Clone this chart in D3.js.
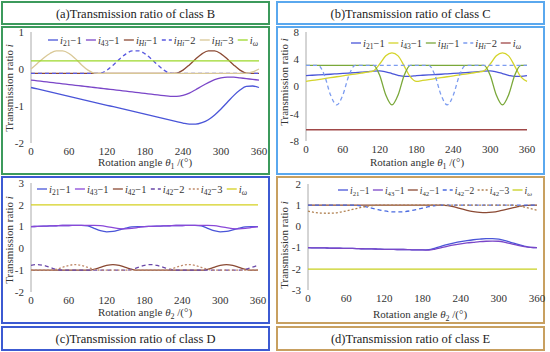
<!DOCTYPE html>
<html>
<head>
<meta charset="utf-8">
<script src="https://cdn.jsdelivr.net/npm/d3@7"></script>
<style>
  body { margin: 0; background: #fff; }
</style>
</head>
<body>
<svg id="fig" width="550" height="352"></svg>
<script>
// rotation angle grid (deg)
const angles = [0,10,20,30,40,50,60,70,80,90,100,110,120,130,140,150,160,170,180,
  190,200,210,220,230,240,250,260,270,280,290,300,310,320,330,340,350,360];
const ends = [0, 360];
const xTicks = [0, 60, 120, 180, 240, 300, 360];

// (a) class B
const aI21 = [-0.5,-0.54,-0.58,-0.62,-0.66,-0.7,-0.74,-0.78,-0.82,-0.86,-0.9,-0.94,-0.98,-1.02,-1.06,-1.1,-1.14,-1.18,-1.22,
  -1.26,-1.3,-1.34,-1.38,-1.42,-1.46,-1.49,-1.49,-1.45,-1.37,-1.24,-1.08,-0.9,-0.72,-0.57,-0.47,-0.46,-0.5];
const aI43 = [-0.3,-0.32,-0.34,-0.36,-0.38,-0.4,-0.42,-0.44,-0.46,-0.48,-0.5,-0.52,-0.54,-0.56,-0.58,-0.6,-0.62,-0.64,-0.66,
  -0.68,-0.7,-0.72,-0.74,-0.74,-0.71,-0.65,-0.56,-0.46,-0.37,-0.29,-0.24,-0.22,-0.22,-0.24,-0.26,-0.28,-0.3];
const aHi1 = [-0.12,-0.12,-0.12,-0.12,-0.12,-0.12,-0.12,-0.12,-0.12,-0.12,-0.12,-0.12,-0.12,-0.12,-0.12,-0.12,-0.12,-0.12,-0.12,
  -0.12,-0.12,-0.12,-0.12,-0.11,-0.03,0.11,0.27,0.41,0.49,0.49,0.41,0.27,0.11,-0.03,-0.11,-0.12,-0.12];
const aHi2 = [-0.12,-0.12,-0.12,-0.12,-0.12,-0.12,-0.12,-0.12,-0.12,-0.12,-0.12,-0.11,-0.03,0.11,0.27,0.41,0.49,0.49,0.41,
  0.27,0.11,-0.03,-0.11,-0.12,-0.12,-0.12,-0.12,-0.12,-0.12,-0.12,-0.12,-0.12,-0.12,-0.12,-0.12,-0.12,-0.12];
const aHi3 = [0.0,0.15,0.3,0.42,0.49,0.49,0.42,0.28,0.11,-0.03,-0.11,-0.12,-0.12,-0.12,-0.12,-0.12,-0.12,-0.12,-0.12,
  -0.12,-0.12,-0.12,-0.12,-0.12,-0.12,-0.12,-0.12,-0.12,-0.12,-0.12,-0.12,-0.12,-0.12,-0.12,-0.12,-0.08,0.0];
const aW = [0.22, 0.22];

// (b) class C
const bI21 = [1.6,1.65,1.7,1.75,1.8,1.86,1.92,1.98,2.04,2.1,2.17,2.27,2.3,2.15,1.9,1.65,1.48,1.48,1.6,
  1.65,1.7,1.75,1.8,1.86,1.92,1.98,2.04,2.1,2.17,2.27,2.3,2.15,1.9,1.65,1.48,1.48,1.6];
const bI43 = [0.75,0.89,1.02,1.16,1.29,1.43,1.56,1.7,1.83,1.97,2.1,2.3,3.3,4.5,4.95,4.5,3.0,1.4,0.75,
  0.89,1.02,1.16,1.29,1.43,1.56,1.7,1.83,1.97,2.1,2.3,3.3,4.5,4.95,4.5,3.0,1.4,0.75];
const bHi1 = [3.1,3.1,3.1,3.1,3.1,3.1,3.1,3.1,3.1,3.1,3.1,3.1,1.65,-1.25,-2.7,-1.25,1.65,3.1,3.1,
  3.1,3.1,3.1,3.1,3.1,3.1,3.1,3.1,3.1,3.1,3.1,1.65,-1.25,-2.7,-1.25,1.65,3.1,3.1];
const bHi2 = [3.1,3.1,3.1,1.65,-1.25,-2.7,-1.25,1.65,3.1,3.1,3.1,3.1,3.1,3.1,3.1,3.1,3.1,3.1,3.1,
  3.1,3.1,1.65,-1.25,-2.7,-1.25,1.65,3.1,3.1,3.1,3.1,3.1,3.1,3.1,3.1,3.1,3.1,3.1];
const bW = [-6.35, -6.35];

// (c) class D
const cI21 = [1.0,1.01,1.02,1.03,1.04,1.05,1.05,1.06,1.06,1.03,0.92,0.81,0.76,0.78,0.85,0.93,0.99,1.0,1.0,
  1.01,1.02,1.03,1.04,1.05,1.05,1.06,1.06,1.03,0.92,0.81,0.76,0.78,0.85,0.93,0.99,1.0,1.0];
const cI43 = [1.0,1.01,1.02,1.03,1.04,1.05,1.05,1.06,1.06,1.06,1.06,1.04,1.0,0.95,0.91,0.9,0.92,0.96,1.0,
  1.01,1.02,1.03,1.04,1.05,1.05,1.06,1.06,1.06,1.06,1.04,1.0,0.95,0.91,0.9,0.92,0.96,1.0];
const cHi1 = [-1,-1,-1,-1,-1,-1,-1,-1,-1,-1,-0.96,-0.87,-0.78,-0.74,-0.78,-0.87,-0.96,-1,-1,
  -1,-1,-1,-1,-1,-1,-1,-1,-1,-0.96,-0.87,-0.78,-0.74,-0.78,-0.87,-0.96,-1,-1];
const cHi2 = [-0.78,-0.74,-0.78,-0.87,-0.96,-1,-1,-1,-1,-1,-1,-1,-1,-1,-1,-1,-0.96,-0.87,-0.78,
  -0.74,-0.78,-0.87,-0.96,-1,-1,-1,-1,-1,-1,-1,-1,-1,-1,-1,-0.96,-0.87,-0.78];
const cHi3 = [-1,-1,-1,-1,-0.96,-0.87,-0.78,-0.74,-0.78,-0.87,-0.96,-1,-1,-1,-1,-1,-1,-1,-1,
  -1,-1,-1,-0.96,-0.87,-0.78,-0.74,-0.78,-0.87,-0.96,-1,-1,-1,-1,-1,-1,-1,-1];
const cW = [2, 2];

// (d) class E
const dI21 = [-1.0,-1.01,-1.01,-1.02,-1.03,-1.03,-1.04,-1.04,-1.05,-1.06,-1.06,-1.07,-1.08,-1.08,-1.09,-1.09,-1.1,-1.11,-1.11,
  -1.1,-1.02,-0.93,-0.85,-0.78,-0.72,-0.67,-0.63,-0.6,-0.58,-0.58,-0.6,-0.67,-0.76,-0.85,-0.93,-0.99,-1.0];
const dI43 = [-1.0,-1.01,-1.01,-1.02,-1.03,-1.03,-1.04,-1.04,-1.05,-1.06,-1.06,-1.07,-1.08,-1.08,-1.09,-1.09,-1.1,-1.11,-1.11,
  -1.12,-1.07,-1.0,-0.93,-0.87,-0.82,-0.78,-0.75,-0.72,-0.7,-0.69,-0.7,-0.75,-0.82,-0.89,-0.95,-0.99,-1.0];
const dHi1 = [1,1,1,1,1,1,1,1,1,1,1,1,1,1,1,1,1,1,1,
  1,1,1,0.98,0.92,0.84,0.76,0.7,0.66,0.65,0.67,0.72,0.79,0.86,0.93,0.98,1,1];
const dHi2 = [1,1,1,1,1,1,1,1,0.98,0.93,0.86,0.79,0.73,0.69,0.68,0.69,0.73,0.79,0.86,
  0.93,0.98,1,1,1,1,1,1,1,1,1,1,1,1,1,1,1,1];
const dHi3 = [0.72,0.66,0.63,0.62,0.63,0.67,0.73,0.8,0.87,0.94,0.98,1,1,1,1,1,1,1,1,
  1,1,1,1,1,1,1,1,1,1,1,1,1,1,0.97,0.91,0.84,0.76];
const dW = [-2.02, -2.02];

const FONT = "'Liberation Serif', 'Times New Roman', serif";
const blue = "#4a55d8", purple = "#7a46c8", brown = "#8b4a34";

const panels = [
  { title: "(a)Transmission ratio of class B", border: "#3c9a5c", box: [2, 27, 267, 147], tbox: [2, 2, 267, 22],
    xr: [31, 259], yr: [143, 32], yDomain: [-2, 1], yTicks: [-2, -1, 0, 1], theta: "1",
    legend: { x0: 48, x1: 258, y: 40, size: 10.5 }, ytitle: [13, 88], xtitle: [145, 166],
    series: [
      { x: angles, y: aI21, sub: "21", suf: "−1", color: blue },
      { x: angles, y: aI43, sub: "43", suf: "−1", color: purple },
      { x: angles, y: aHi1, sub: "Hi", suf: "−1", color: brown },
      { x: angles, y: aHi2, sub: "Hi", suf: "−2", color: "#5858e0", dash: "4,3" },
      { x: angles, y: aHi3, sub: "Hi", suf: "−3", color: "#d9c896" },
      { x: ends, y: aW, sub: "ω", suf: "", color: "#9cd82a" }
    ] },
  { title: "(b)Transmission ratio of class C", border: "#5aa8ee", box: [277, 27, 267, 147], tbox: [277, 2, 267, 22],
    xr: [306, 527], yr: [141, 32], yDomain: [-8, 8], yTicks: [-8, -4, 0, 4, 8], theta: "1",
    legend: { x0: 351, x1: 521, y: 43, size: 10.5 }, ytitle: [288, 82], xtitle: [417, 166],
    series: [
      { x: angles, y: bI21, sub: "21", suf: "−1", color: blue },
      { x: angles, y: bI43, sub: "43", suf: "−1", color: "#d4d42c" },
      { x: angles, y: bHi1, sub: "Hi", suf: "−1", color: "#7aa83a" },
      { x: angles, y: bHi2, sub: "Hi", suf: "−2", color: "#7c9cf0", dash: "4,3" },
      { x: ends, y: bW, sub: "ω", suf: "", color: "#a04848" }
    ] },
  { title: "(c)Transmission ratio of class D", border: "#3c5ad2", box: [2, 177, 267, 146], tbox: [2, 327, 267, 23],
    xr: [31, 258], yr: [292, 183], yDomain: [-2, 3], yTicks: [-2, -1, 0, 1, 2, 3], theta: "2",
    legend: { x0: 37, x1: 247, y: 189, size: 10.5 }, ytitle: [13, 240], xtitle: [145, 316],
    series: [
      { x: angles, y: cI21, sub: "21", suf: "−1", color: blue },
      { x: angles, y: cI43, sub: "43", suf: "−1", color: "#8a48d8" },
      { x: angles, y: cHi1, sub: "42", suf: "−1", color: brown },
      { x: angles, y: cHi2, sub: "42", suf: "−2", color: "#6a48a8", dash: "4,3" },
      { x: angles, y: cHi3, sub: "42", suf: "−3", color: "#c08a6a", dash: "2,2" },
      { x: ends, y: cW, sub: "ω", suf: "", color: "#d4d020" }
    ] },
  { title: "(d)Transmission ratio of class E", border: "#c8a060", box: [277, 177, 267, 146], tbox: [277, 327, 267, 23],
    xr: [308, 537], yr: [290, 184], yDomain: [-3, 2], yTicks: [-3, -2, -1, 0, 1, 2], theta: "2",
    legend: { x0: 338, x1: 532, y: 190, size: 9.5 }, ytitle: [288, 245], xtitle: [420, 318],
    series: [
      { x: angles, y: dI21, sub: "21", suf: "−1", color: blue },
      { x: angles, y: dI43, sub: "43", suf: "−1", color: purple },
      { x: angles, y: dHi1, sub: "42", suf: "−1", color: brown },
      { x: angles, y: dHi2, sub: "42", suf: "−2", color: "#4a6ae0", dash: "4,3" },
      { x: angles, y: dHi3, sub: "42", suf: "−3", color: "#b08050", dash: "2,2" },
      { x: ends, y: dW, sub: "ω", suf: "", color: "#c8d020" }
    ] }
];

const svg = d3.select("#fig");

function txt(parent, size) {
  return parent.append("text")
    .style("font-family", FONT)
    .style("font-size", size + "px")
    .style("fill", "#333");
}

function mathLabel(sel, sub, suf, size) {
  sel.append("tspan").attr("font-style", "italic").text("i");
  sel.append("tspan")
    .attr("font-size", size * 0.72)
    .attr("font-style", /\d/.test(sub) ? "normal" : "italic")
    .attr("dy", size * 0.28)
    .text(sub);
  if (suf) sel.append("tspan").attr("dy", -size * 0.28).text(suf);
}

panels.forEach(p => {
  // frames
  [p.box, p.tbox].forEach(b => {
    svg.append("rect")
      .attr("x", b[0]).attr("y", b[1]).attr("width", b[2]).attr("height", b[3])
      .attr("fill", "none").attr("stroke", p.border).attr("stroke-width", 2);
  });
  txt(svg, 12.5)
    .attr("x", p.tbox[0] + p.tbox[2] / 2)
    .attr("y", p.tbox[1] + p.tbox[3] / 2 + 4.5)
    .attr("text-anchor", "middle")
    .style("fill", "#222")
    .text(p.title);

  const x = d3.scaleLinear().domain([0, 360]).range(p.xr);
  const y = d3.scaleLinear().domain(p.yDomain).range(p.yr);

  const g = svg.append("g");

  // y axis line and labels
  g.append("line")
    .attr("x1", p.xr[0]).attr("x2", p.xr[0])
    .attr("y1", p.yr[1]).attr("y2", p.yr[0])
    .attr("stroke", "#aaa").attr("stroke-width", 1);

  p.yTicks.forEach(v => {
    txt(g, 11)
      .attr("x", p.xr[0] - 7)
      .attr("y", y(v))
      .attr("dy", "0.35em")
      .attr("text-anchor", "end")
      .text(v);
  });

  xTicks.forEach(v => {
    txt(g, 11)
      .attr("x", x(v))
      .attr("y", p.yr[0] + 12)
      .attr("text-anchor", "middle")
      .text(v);
  });

  // axis titles
  const xt = txt(g, 11)
    .attr("x", p.xtitle[0]).attr("y", p.xtitle[1])
    .attr("text-anchor", "middle");
  xt.append("tspan").text("Rotation angle ");
  xt.append("tspan").attr("font-style", "italic").text("θ");
  xt.append("tspan").attr("font-size", 8).attr("dy", 3).text(p.theta);
  xt.append("tspan").attr("dy", -3).text(" /(°)");

  const yt = txt(g, 11)
    .attr("transform", "translate(" + p.ytitle[0] + "," + p.ytitle[1] + ") rotate(-90)")
    .attr("text-anchor", "middle");
  yt.append("tspan").text("Transmission ratio ");
  yt.append("tspan").attr("font-style", "italic").text("i");

  // series
  const line = d3.line()
    .x(d => x(d[0]))
    .y(d => y(d[1]))
    .curve(d3.curveMonotoneX);

  p.series.forEach(s => {
    g.append("path")
      .datum(s.x.map((a, i) => [a, s.y[i]]))
      .attr("fill", "none")
      .attr("stroke", s.color)
      .attr("stroke-width", 1.3)
      .attr("stroke-dasharray", s.dash || null)
      .attr("d", line);
  });

  // legend, spread evenly between x0 and x1
  const lg = g.append("g");
  const lineLen = 10, pad = 2, fs = p.legend.size;
  const items = p.series.map(s => {
    const it = lg.append("g");
    it.append("line")
      .attr("y1", p.legend.y).attr("y2", p.legend.y)
      .attr("x1", 0).attr("x2", lineLen)
      .attr("stroke", s.color).attr("stroke-width", 1.3)
      .attr("stroke-dasharray", s.dash || null);
    const t = txt(it, fs)
      .attr("x", lineLen + pad).attr("y", p.legend.y + 3.5);
    mathLabel(t, s.sub, s.suf, fs);
    return { g: it, w: lineLen + pad + t.node().getComputedTextLength() };
  });
  const total = d3.sum(items, d => d.w);
  const gap = Math.max(2, (p.legend.x1 - p.legend.x0 - total) / (items.length - 1));
  let cx = p.legend.x0;
  items.forEach(d => {
    d.g.attr("transform", "translate(" + cx + ",0)");
    cx += d.w + gap;
  });
});
</script>
</body>
</html>
